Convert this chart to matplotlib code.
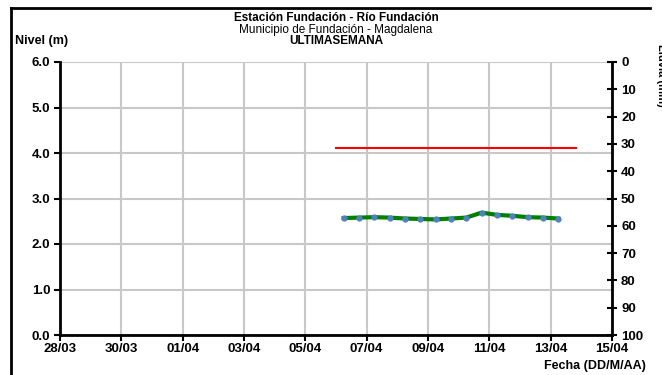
import matplotlib
matplotlib.use("Agg")
import matplotlib.pyplot as plt
import matplotlib.dates as mdates
from matplotlib.lines import Line2D
from datetime import datetime, timedelta

plt.rcParams['font.family'] = ['Liberation Sans', 'DejaVu Sans']

# ---- data ----
start = datetime(2024, 4, 6, 6, 0)
times = [start + timedelta(hours=12 * i) for i in range(15)]
nivel = [2.57, 2.58, 2.59, 2.58, 2.56, 2.55, 2.54, 2.56, 2.58, 2.69,
         2.64, 2.62, 2.59, 2.58, 2.56]
alerta_times = [datetime(2024, 4, 6, 0, 0), datetime(2024, 4, 13, 20, 0)]
alerta_val = [4.12, 4.12]

x_start = datetime(2024, 3, 28)
x_end = datetime(2024, 4, 15)
y_ticks = [0.0, 1.0, 2.0, 3.0, 4.0, 5.0, 6.0]
y2_ticks = list(range(0, 101, 10))

W, H = 662, 375
fig = plt.figure(figsize=(W / 100, H / 100), dpi=100)
L, R, T, B = 60, 612, 62, 335
ax = fig.add_axes([L / W, 1 - B / H, (R - L) / W, (B - T) / H])

ax.plot(alerta_times, alerta_val, color='#ff0000', lw=1.5, zorder=3)
ax.plot(times, nivel, color='#008000', lw=3, zorder=4,
        marker='o', markersize=3.5, markerfacecolor='#4f81bd',
        markeredgecolor='#4f81bd')

ax.set_xlim(x_start, x_end)
ax.set_ylim(0, 6)
ax.set_yticks(y_ticks)
ax.set_yticklabels([f"{v:.1f}" for v in y_ticks])
ax.set_xticks([x_start + timedelta(days=2 * i) for i in range(10)])
ax.xaxis.set_major_formatter(mdates.DateFormatter('%d/%m'))

ax.grid(True, color='#c8c8c8', lw=1.5, zorder=0)
ax.set_axisbelow(True)
for s in ['left', 'bottom']:
    ax.spines[s].set_linewidth(2)
    ax.spines[s].set_color('black')
ax.spines['top'].set_visible(False)
ax.spines['right'].set_visible(False)
ax.tick_params(axis='both', labelsize=9.5, width=1.5, length=4, color='black')
ax.tick_params(axis='x', pad=2)
ax.tick_params(axis='y', pad=3)
for lab in ax.get_xticklabels() + ax.get_yticklabels():
    lab.set_fontweight('bold')

ax2 = ax.twinx()
ax2.set_ylim(100, 0)
ax2.set_yticks(y2_ticks)
ax2.spines['right'].set_linewidth(2)
for s in ['left', 'top', 'bottom']:
    ax2.spines[s].set_visible(False)
ax2.tick_params(axis='y', direction='inout', labelsize=9.5, width=1.5,
                length=7, pad=3)
for lab in ax2.get_yticklabels():
    lab.set_fontweight('bold')

cx = 336 / W
fig.text(cx, 1 - 18 / H, 'Estación Fundación - Río Fundación', ha='center',
         va='center', fontsize=8.5, fontweight='bold')
fig.text(cx, 1 - 29.5 / H, 'Municipio de Fundación - Magdalena', ha='center',
         va='center', fontsize=8.5)
fig.text(cx, 1 - 41 / H, 'ULTIMASEMANA', ha='center', va='center',
         fontsize=8.5, fontweight='bold')
fig.text(15 / W, 1 - 41 / H, 'Nivel (m)', ha='left', va='center',
         fontsize=9, fontweight='bold')
fig.text(646 / W, 1 - 366 / H, 'Fecha (DD/M/AA)', ha='right', va='center',
         fontsize=9, fontweight='bold')
fig.text(656 / W, 1 - 75 / H, 'Lluvia (mm)', ha='left', va='center',
         rotation=270, fontsize=8, fontweight='bold')

# chart border (top & left)
fig.add_artist(Line2D([11 / W, 650 / W], [1 - 8 / H, 1 - 8 / H],
                      color='black', lw=2, transform=fig.transFigure))
fig.add_artist(Line2D([11 / W, 11 / W], [0, 1 - 8 / H],
                      color='black', lw=2, transform=fig.transFigure))

fig.savefig('out.png', dpi=100)
